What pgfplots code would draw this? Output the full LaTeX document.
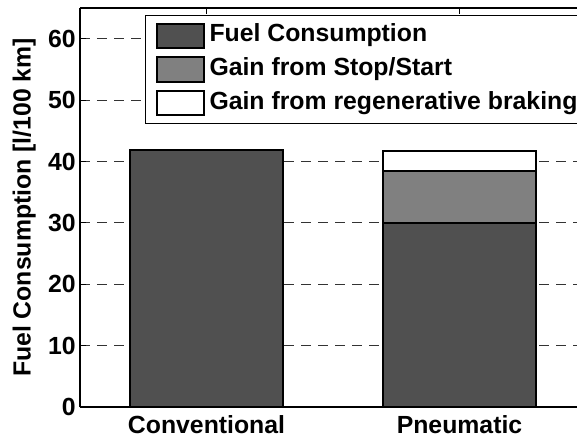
\documentclass[border=0pt]{standalone}
\usepackage{fontspec}
\setmainfont{Liberation Sans}
\usepackage{pgfplots}
\pgfplotsset{compat=1.18}
\definecolor{fuel}{RGB}{80,80,80}
\definecolor{stopstart}{RGB}{128,128,128}
\newcommand\myfont{\fontsize{12.4}{14}\selectfont\bfseries}
\begin{document}
\begin{tikzpicture}
\begin{axis}[name=ax, scale only axis, width=253pt, height=199.5pt,
  xmin=0.5, xmax=2.5, ymin=0, ymax=65,
  axis x line*=box, axis y line*=left,
  ybar stacked, bar width=76.5pt,
  xtick={1,2}, xticklabels={Conventional,Pneumatic},
  ytick={0,10,...,60},
  ymajorgrids,
  major grid style={black!80, dash pattern=on 5pt off 3.5pt, line width=0.5pt},
  tick align=inside, major tick length=3pt,
  axis line style={line width=0.6pt, -}, tick style={line width=0.5pt, black},
  /pgf/number format/assume math mode=true,
  every tick label/.append style={font=\myfont},
  label style={font=\myfont},
  yticklabel style={inner sep=0pt, xshift=-2pt},
  xticklabel style={inner sep=0pt, yshift=-4pt},
  ylabel={Fuel Consumption [l/100 km]},
  ylabel style={at={(rel axis cs:-0.11,0.5)}, anchor=center},
  legend style={at={(rel axis cs:0.1285,0.9825)}, anchor=north west,
    draw=black, line width=0.5pt, inner xsep=5pt, inner ysep=3.75pt,
    row sep=3.75pt, column sep=2.5pt, font=\myfont,
    nodes={inner sep=0pt, text height=9pt, text depth=3pt, anchor=west}},
  legend cell align=left,
  legend image code/.code={\draw[#1, draw=black, line width=1pt] (0pt,-6pt) rectangle (23.5pt,6pt);},
  every axis plot/.append style={draw=black, line width=1pt}
]
\addplot[fill=fuel] coordinates {(1,41.8) (2,30.0)};
\addplot[fill=stopstart] coordinates {(1,0) (2,8.5)};
\addplot[fill=white] coordinates {(1,0) (2,3.2)};
\legend{Fuel Consumption, Gain from Stop/Start, Gain from regenerative braking}
\end{axis}
\pgfresetboundingbox
\path[use as bounding box] ([shift={(-40pt,-17pt)}]ax.south west) rectangle ([shift={(248.5pt,203.5pt)}]ax.south west);
\end{tikzpicture}
\end{document}
